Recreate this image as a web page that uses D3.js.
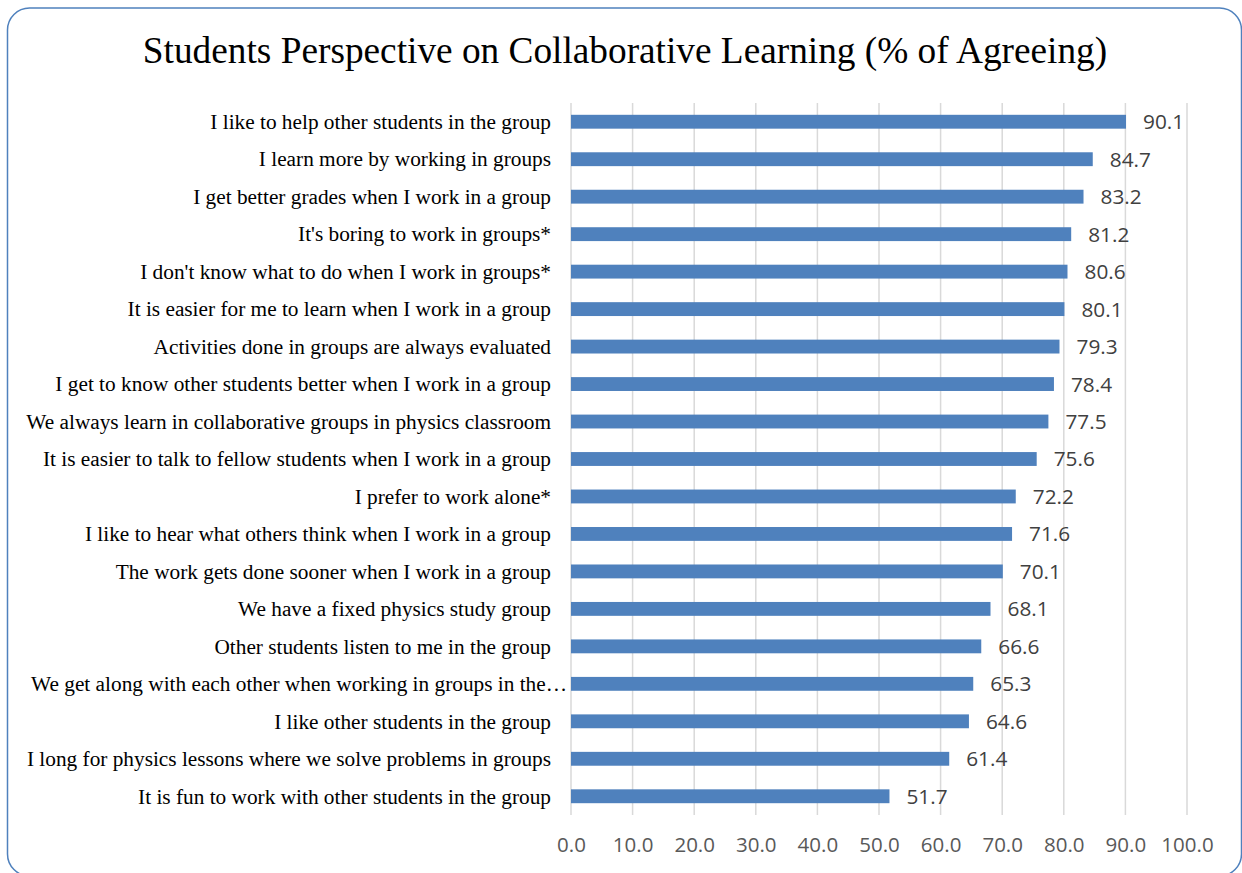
<!DOCTYPE html>
<html>
<head>
<meta charset="utf-8">
<script src="https://cdn.jsdelivr.net/npm/d3@7"></script>
<style>
  html, body { margin: 0; padding: 0; background: #fff; }
  svg { display: block; }
</style>
</head>
<body>
<svg id="chart" width="1242" height="873"></svg>
<script>
const title = "Students Perspective on Collaborative Learning (% of Agreeing)";

const statements = [
    "I like to help other students in the group",
    "I learn more by working in groups",
    "I get better grades when I work in a group",
    "It's boring to work in groups*",
    "I don't know what to do when I work in groups*",
    "It is easier for me to learn when I work in a group",
    "Activities done in groups are always evaluated",
    "I get to know other students better when I work in a group",
    "We always learn in collaborative groups in physics classroom",
    "It is easier to talk to fellow students when I work in a group",
    "I prefer to work alone*",
    "I like to hear what others think when I work in a group",
    "The work gets done sooner when I work in a group",
    "We have a fixed physics study group",
    "Other students listen to me in the group",
    "We get along with each other when working in groups in the\u2026",
    "I like other students in the group",
    "I long for physics lessons where we solve problems in groups",
    "It is fun to work with other students in the group"
];

const agreeing = [90.1, 84.7, 83.2, 81.2, 80.6, 80.1, 79.3, 78.4, 77.5, 75.6,
                  72.2, 71.6, 70.1, 68.1, 66.6, 65.3, 64.6, 61.4, 51.7];

const xTicks = [0, 10, 20, 30, 40, 50, 60, 70, 80, 90, 100];

const data = statements.map((s, i) => ({ statement: s, value: agreeing[i] }));

const svg = d3.select("#chart");

// outer rounded frame
svg.append("rect")
    .attr("x", 7.5)
    .attr("y", 8)
    .attr("width", 1234)
    .attr("height", 868)
    .attr("rx", 22)
    .attr("fill", "#fff")
    .attr("stroke", "#4f81bd")
    .attr("stroke-width", 1.5);

svg.append("text")
    .attr("x", 625)
    .attr("y", 63)
    .attr("text-anchor", "middle")
    .style("font-family", "'Liberation Serif', 'Times New Roman', serif")
    .style("font-size", "37.3px")
    .style("fill", "#000")
    .text(title);

const margin = { top: 103, left: 571 };
const width = 616;
const height = 712;

const x = d3.scaleLinear()
    .domain([0, 100])
    .range([0, width]);

const y = d3.scaleBand()
    .domain(statements)
    .range([0, height])
    .paddingInner(0.63)
    .paddingOuter(0.315);

const g = svg.append("g")
    .attr("transform", `translate(${margin.left},${margin.top})`);

// vertical gridlines
g.append("g")
    .selectAll("line")
    .data(xTicks)
    .join("line")
    .attr("x1", d => x(d))
    .attr("x2", d => x(d))
    .attr("y1", 0)
    .attr("y2", height)
    .attr("stroke", "#d9d9d9")
    .attr("stroke-width", 1.5);

g.selectAll("rect.bar")
    .data(data)
    .join("rect")
    .attr("class", "bar")
    .attr("x", x(0))
    .attr("y", d => y(d.statement))
    .attr("width", d => x(d.value) - x(0))
    .attr("height", y.bandwidth())
    .attr("fill", "#4f81bd");

g.selectAll("text.val")
    .data(data)
    .join("text")
    .attr("class", "val")
    .attr("x", d => x(d.value) + 17)
    .attr("y", d => y(d.statement) + y.bandwidth() / 2)
    .attr("dy", "0.36em")
    .style("font-family", "'Open Sans', 'Noto Sans', sans-serif")
    .style("font-size", "20.8px")
    .style("fill", "#404040")
    .text(d => d.value.toFixed(1));

// category axis
const yAxis = g.append("g")
    .call(d3.axisLeft(y).tickSize(0).tickPadding(20));
yAxis.select(".domain").remove();
yAxis.selectAll("text")
    .attr("dy", "0.34em")
    .style("font-family", "'Liberation Serif', 'Times New Roman', serif")
    .style("font-size", "21.3px")
    .style("fill", "#000");
// the truncated label runs closer to the axis
yAxis.selectAll("text")
    .filter(d => d.endsWith("\u2026"))
    .attr("x", -4);

// value axis
const xAxis = g.append("g")
    .attr("transform", `translate(0,${height})`)
    .call(d3.axisBottom(x).tickValues(xTicks).tickSize(0).tickPadding(22).tickFormat(d3.format(".1f")));
xAxis.select(".domain").remove();
xAxis.selectAll("text")
    .style("font-family", "'Open Sans', 'Noto Sans', sans-serif")
    .style("font-size", "20.5px")
    .style("fill", "#595959");
</script>
</body>
</html>
